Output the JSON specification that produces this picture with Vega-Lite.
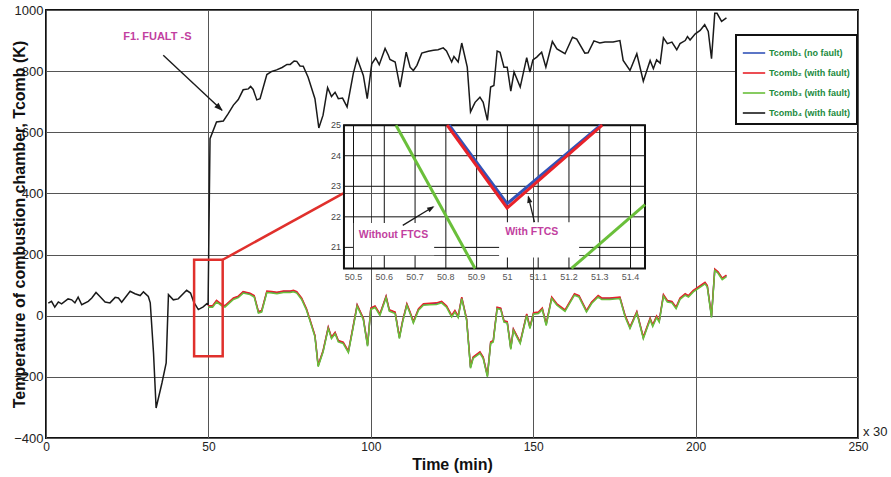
{
  "$schema": "https://vega.github.io/schema/vega-lite/v6.json",
  "width": 812,
  "height": 428,
  "autosize": {"type": "none"},
  "padding": {"left": 46, "top": 10, "right": 33, "bottom": 39},
  "background": "white",
  "config": {
    "view": {"stroke": "#111111", "strokeWidth": 2},
    "font": "Liberation Sans",
    "axis": {
      "labelFont": "Liberation Sans",
      "labelFontSize": 12,
      "labelColor": "#222222",
      "titleFont": "Liberation Sans",
      "titleFontSize": 16,
      "titleFontWeight": "bold",
      "titleColor": "#111111",
      "grid": true,
      "gridColor": "#555555",
      "gridWidth": 1,
      "domain": false,
      "ticks": false
    },
    "legend": {
      "strokeColor": "#111111",
      "strokeWidth": 2,
      "fillColor": "white",
      "padding": 6,
      "labelFont": "Liberation Sans",
      "labelFontSize": 9,
      "labelFontWeight": "bold",
      "labelColor": "#218a3c",
      "symbolType": "stroke",
      "symbolSize": 500,
      "symbolStrokeWidth": 1.6,
      "labelOffset": 3,
      "rowPadding": 3
    }
  },
  "datasets": {
    "black": [
      {"t":0.7,"v":41},{"t":1.7,"v":47},{"t":2.7,"v":28},{"t":3.8,"v":45},{"t":4.8,"v":39},{"t":6.8,"v":55},{"t":7.9,"v":52},{"t":8.9,"v":42},{"t":9.9,"v":61},{"t":11.0,"v":36},{"t":13.0,"v":47},{"t":14.1,"v":58},{"t":15.4,"v":76},{"t":16.6,"v":63},{"t":18.2,"v":45},{"t":19.7,"v":42},{"t":21.3,"v":60},{"t":22.3,"v":58},{"t":23.3,"v":44},{"t":25.9,"v":80},{"t":27.4,"v":72},{"t":29.0,"v":66},{"t":30.0,"v":78},{"t":31.5,"v":63},{"t":32.1,"v":42},{"t":33.1,"v":-121},{"t":33.9,"v":-302},{"t":35.7,"v":-220},{"t":37.0,"v":-154},{"t":37.7,"v":69},{"t":39.2,"v":52},{"t":40.7,"v":55},{"t":43.3,"v":83},{"t":44.5,"v":74},{"t":45.5,"v":44},{"t":46.9,"v":20},{"t":48.4,"v":29},{"t":49.5,"v":39},{"t":49.9,"v":36},
      {"t":50.5,"v":579},{"t":52.5,"v":634},{"t":54.6,"v":637},{"t":56.1,"v":661},{"t":57.7,"v":689},{"t":59.2,"v":707},{"t":60.7,"v":739},{"t":62.3,"v":742},{"t":63.0,"v":750},{"t":63.8,"v":740},{"t":64.9,"v":706},{"t":65.9,"v":710},{"t":68.0,"v":789},{"t":69.5,"v":799},{"t":71.0,"v":804},{"t":72.7,"v":812},{"t":74.2,"v":822},{"t":75.2,"v":822},{"t":76.4,"v":833},{"t":77.2,"v":832},{"t":78.2,"v":817},{"t":79.2,"v":816},{"t":80.7,"v":780},{"t":82.8,"v":710},{"t":84.0,"v":614},{"t":85.3,"v":656},{"t":86.7,"v":746},{"t":87.9,"v":717},{"t":89.0,"v":731},{"t":90.0,"v":710},{"t":91.3,"v":712},{"t":92.7,"v":683},{"t":94.6,"v":792},{"t":95.8,"v":841},{"t":97.7,"v":786},{"t":98.9,"v":710},{"t":100.3,"v":824},{"t":101.5,"v":843},{"t":102.6,"v":821},{"t":104.4,"v":874},{"t":105.4,"v":852},{"t":105.9,"v":838},{"t":107.5,"v":830},{"t":109.0,"v":748},{"t":110.9,"v":862},{"t":112.1,"v":813},{"t":113.1,"v":802},{"t":114.2,"v":819},{"t":115.7,"v":859},{"t":117.7,"v":865},{"t":119.3,"v":868},{"t":120.7,"v":870},{"t":122.3,"v":876},{"t":123.3,"v":866},{"t":124.9,"v":830},{"t":125.6,"v":848},{"t":126.9,"v":830},{"t":128.0,"v":892},{"t":129.7,"v":813},{"t":130.7,"v":667},{"t":132.1,"v":698},{"t":133.6,"v":715},{"t":134.6,"v":698},{"t":135.9,"v":639},{"t":136.9,"v":748},{"t":137.9,"v":753},{"t":138.9,"v":866},{"t":139.8,"v":862},{"t":141.0,"v":813},{"t":142.0,"v":813},{"t":143.1,"v":735},{"t":144.1,"v":797},{"t":146.0,"v":748},{"t":148.0,"v":844},{"t":149.0,"v":797},{"t":149.9,"v":837},{"t":151.1,"v":846},{"t":152.6,"v":862},{"t":153.9,"v":813},{"t":155.9,"v":897},{"t":157.3,"v":873},{"t":159.8,"v":857},{"t":162.1,"v":911},{"t":163.4,"v":905},{"t":165.9,"v":859},{"t":166.9,"v":860},{"t":168.7,"v":899},{"t":170.5,"v":892},{"t":172.1,"v":895},{"t":174.6,"v":895},{"t":176.7,"v":900},{"t":177.7,"v":835},{"t":179.8,"v":802},{"t":181.9,"v":857},{"t":183.9,"v":767},{"t":186.0,"v":835},{"t":187.0,"v":808},{"t":188.0,"v":837},{"t":189.1,"v":826},{"t":190.1,"v":909},{"t":191.3,"v":890},{"t":192.7,"v":895},{"t":194.2,"v":870},{"t":195.2,"v":890},{"t":196.8,"v":900},{"t":197.5,"v":913},{"t":198.3,"v":902},{"t":199.9,"v":922},{"t":201.4,"v":933},{"t":202.8,"v":952},{"t":203.9,"v":930},{"t":204.9,"v":841},{"t":205.9,"v":989},{"t":206.6,"v":989},{"t":208.0,"v":963},{"t":209.5,"v":974}
    ],
    "low": [
      {"t":49.9,"b":31,"r":33,"g":28},{"t":51.3,"b":31,"r":33,"g":28},{"t":52.5,"b":48,"r":50,"g":45},{"t":54.1,"b":35,"r":37,"g":32},{"t":55.1,"b":31,"r":33,"g":28},{"t":57.7,"b":56,"r":58,"g":53},{"t":59.2,"b":62,"r":64,"g":59},{"t":60.7,"b":77,"r":79,"g":74},{"t":62.8,"b":72,"r":74,"g":69},{"t":64.1,"b":64,"r":66,"g":61},{"t":65.4,"b":12,"r":14,"g":9},{"t":66.4,"b":15,"r":17,"g":12},{"t":68.0,"b":79,"r":81,"g":76},{"t":69.5,"b":77,"r":79,"g":74},{"t":71.1,"b":75,"r":77,"g":72},{"t":73.1,"b":79,"r":81,"g":76},{"t":75.2,"b":79,"r":81,"g":76},{"t":76.2,"b":81,"r":83,"g":78},{"t":77.2,"b":77,"r":79,"g":74},{"t":78.7,"b":56,"r":58,"g":53},{"t":80.2,"b":21,"r":23,"g":18},{"t":81.2,"b":-12,"r":-10,"g":-15},{"t":82.8,"b":-66,"r":-64,"g":-69},{"t":83.8,"b":-164,"r":-162,"g":-167},{"t":85.3,"b":-116,"r":-114,"g":-119},{"t":86.9,"b":-39,"r":-37,"g":-42},{"t":87.9,"b":-72,"r":-70,"g":-75},{"t":89.0,"b":-56,"r":-54,"g":-59},{"t":90.0,"b":-83,"r":-81,"g":-86},{"t":91.5,"b":-88,"r":-86,"g":-91},{"t":93.1,"b":-118,"r":-116,"g":-121},{"t":94.6,"b":-34,"r":-32,"g":-37},{"t":95.8,"b":34,"r":36,"g":31},{"t":97.7,"b":-10,"r":-8,"g":-13},{"t":99.0,"b":-97,"r":-95,"g":-100},{"t":100.0,"b":23,"r":25,"g":20},{"t":101.3,"b":30,"r":32,"g":27},{"t":102.8,"b":4,"r":6,"g":1},{"t":104.7,"b":62,"r":64,"g":59},{"t":105.7,"b":18,"r":20,"g":15},{"t":107.5,"b":10,"r":12,"g":7},{"t":108.8,"b":-72,"r":-70,"g":-75},{"t":109.8,"b":-18,"r":-16,"g":-21},{"t":111.1,"b":37,"r":39,"g":34},{"t":112.1,"b":10,"r":12,"g":7},{"t":113.1,"b":-21,"r":-19,"g":-24},{"t":114.7,"b":21,"r":23,"g":18},{"t":116.2,"b":37,"r":39,"g":34},{"t":118.2,"b":39,"r":41,"g":36},{"t":120.2,"b":40,"r":42,"g":37},{"t":121.8,"b":45,"r":47,"g":42},{"t":123.3,"b":31,"r":33,"g":28},{"t":124.9,"b":-1,"r":1,"g":-4},{"t":125.9,"b":15,"r":17,"g":12},{"t":126.9,"b":-3,"r":-1,"g":-6},{"t":128.0,"b":59,"r":61,"g":56},{"t":129.5,"b":-12,"r":-10,"g":-15},{"t":130.7,"b":-169,"r":-167,"g":-172},{"t":131.5,"b":-137,"r":-135,"g":-140},{"t":133.6,"b":-120,"r":-118,"g":-123},{"t":134.6,"b":-137,"r":-135,"g":-140},{"t":135.9,"b":-197,"r":-195,"g":-200},{"t":136.9,"b":-88,"r":-86,"g":-91},{"t":137.7,"b":-83,"r":-81,"g":-86},{"t":138.9,"b":26,"r":28,"g":23},{"t":140.0,"b":23,"r":25,"g":20},{"t":141.0,"b":-18,"r":-16,"g":-21},{"t":142.0,"b":-21,"r":-19,"g":-24},{"t":143.1,"b":-107,"r":-105,"g":-110},{"t":143.9,"b":-45,"r":-43,"g":-48},{"t":146.0,"b":-88,"r":-86,"g":-91},{"t":148.0,"b":4,"r":6,"g":1},{"t":149.0,"b":-39,"r":-37,"g":-42},{"t":150.1,"b":8,"r":10,"g":5},{"t":151.6,"b":10,"r":12,"g":7},{"t":152.8,"b":23,"r":25,"g":20},{"t":154.0,"b":-29,"r":-27,"g":-32},{"t":155.7,"b":59,"r":61,"g":56},{"t":157.3,"b":37,"r":39,"g":34},{"t":159.8,"b":17,"r":19,"g":14},{"t":162.7,"b":70,"r":72,"g":67},{"t":164.1,"b":64,"r":66,"g":61},{"t":166.4,"b":15,"r":17,"g":12},{"t":168.0,"b":43,"r":45,"g":40},{"t":170.0,"b":64,"r":66,"g":61},{"t":171.1,"b":56,"r":58,"g":53},{"t":173.6,"b":56,"r":58,"g":53},{"t":176.7,"b":59,"r":61,"g":56},{"t":178.3,"b":-1,"r":1,"g":-4},{"t":179.8,"b":-39,"r":-37,"g":-42},{"t":181.9,"b":12,"r":14,"g":9},{"t":183.9,"b":-72,"r":-70,"g":-75},{"t":186.0,"b":-10,"r":-8,"g":-13},{"t":186.8,"b":-32,"r":-30,"g":-35},{"t":188.0,"b":-3,"r":-1,"g":-6},{"t":188.8,"b":-18,"r":-16,"g":-21},{"t":190.1,"b":67,"r":69,"g":64},{"t":191.3,"b":48,"r":50,"g":45},{"t":192.7,"b":45,"r":47,"g":42},{"t":194.0,"b":26,"r":28,"g":23},{"t":195.2,"b":56,"r":58,"g":53},{"t":196.8,"b":70,"r":72,"g":67},{"t":197.8,"b":64,"r":66,"g":61},{"t":199.3,"b":81,"r":83,"g":78},{"t":202.9,"b":107,"r":109,"g":104},{"t":203.6,"b":97,"r":99,"g":94},{"t":204.9,"b":-3,"r":-1,"g":-6},{"t":205.9,"b":151,"r":153,"g":148},{"t":206.9,"b":142,"r":144,"g":139},{"t":208.2,"b":121,"r":123,"g":118},{"t":209.5,"b":131,"r":133,"g":128}
    ],
    "insetV": [
      {"s":"blue","x":50.811,"y":25},{"s":"blue","x":50.999,"y":22.43},{"s":"blue","x":51.303,"y":25},
      {"s":"red","x":50.804,"y":25},{"s":"red","x":50.999,"y":22.29},{"s":"red","x":51.308,"y":25},
      {"s":"g1","x":50.638,"y":25},{"s":"g1","x":50.895,"y":20.31},
      {"s":"g2","x":51.208,"y":20.31},{"s":"g2","x":51.447,"y":22.40}
    ],
    "insetXT": [
      {"x":50.5,"lab":"50.5"},{"x":50.6,"lab":"50.6"},{"x":50.7,"lab":"50.7"},{"x":50.8,"lab":"50.8"},{"x":50.9,"lab":"50.9"},{"x":51.0,"lab":"51"},{"x":51.1,"lab":"51.1"},{"x":51.2,"lab":"51.2"},{"x":51.3,"lab":"51.3"},{"x":51.4,"lab":"51.4"}
    ],
    "insetYT": [
      {"y":21,"lab":"21"},{"y":22,"lab":"22"},{"y":23,"lab":"23"},{"y":24,"lab":"24"},{"y":25,"lab":"25"}
    ]
  },
  "layer": [
    {
      "layer": [
        {
          "data": {"name": "black"},
          "mark": {"type": "line", "strokeWidth": 1.5, "interpolate": "linear"},
          "encoding": {
            "x": {"field": "t", "type": "quantitative", "scale": {"domain": [0, 250], "nice": false, "zero": false},
                  "axis": {"title": "Time (min)", "values": [0, 50, 100, 150, 200, 250], "labelPadding": 3, "titlePadding": 4, "labelFlush": false}},
            "y": {"field": "v", "type": "quantitative", "scale": {"domain": [-400, 1000], "nice": false, "zero": false},
                  "axis": {"title": "Temperature of combustion chamber, Tcomb (K)", "format": "d", "values": [-400, -200, 0, 200, 400, 600, 800, 1000], "labelPadding": 3, "titlePadding": -14, "labelFontSize": 13, "labelFlush": false}},
            "color": {"datum": "Tcomb₄ (with fault)", "type": "nominal",
                      "scale": {"domain": ["Tcomb₁  (no fault)", "Tcomb₂ (with fault)", "Tcomb₃ (with fault)", "Tcomb₄ (with fault)"],
                                "range": ["#3353b8", "#e8222a", "#6abf3a", "#1a1a1a"]},
                      "legend": {"title": null, "orient": "none", "legendX": 690, "legendY": 25}}
          }
        },
        {
          "data": {"name": "low"},
          "mark": {"type": "line", "strokeWidth": 1.5},
          "encoding": {
            "x": {"field": "t", "type": "quantitative"},
            "y": {"field": "b", "type": "quantitative"},
            "color": {"datum": "Tcomb₁  (no fault)", "type": "nominal"}
          }
        },
        {
          "data": {"name": "low"},
          "mark": {"type": "line", "strokeWidth": 1.5},
          "encoding": {
            "x": {"field": "t", "type": "quantitative"},
            "y": {"field": "r", "type": "quantitative"},
            "color": {"datum": "Tcomb₂ (with fault)", "type": "nominal"}
          }
        },
        {
          "data": {"name": "low"},
          "mark": {"type": "line", "strokeWidth": 1.5},
          "encoding": {
            "x": {"field": "t", "type": "quantitative"},
            "y": {"field": "g", "type": "quantitative"},
            "color": {"datum": "Tcomb₃ (with fault)", "type": "nominal"}
          }
        },
        {
          "data": {"values": [{"t": 45.6, "t2": 54.4, "v": -133, "v2": 183}]},
          "mark": {"type": "rect", "fill": null, "fillOpacity": 0, "stroke": "#e0302c", "strokeWidth": 2.5},
          "encoding": {
            "x": {"field": "t", "type": "quantitative"},
            "x2": {"field": "t2"},
            "y": {"field": "v", "type": "quantitative"},
            "y2": {"field": "v2"}
          }
        },
        {
          "data": {"values": [{"t": 54.4, "t2": 91.5, "v": 183, "v2": 400}]},
          "mark": {"type": "rule", "stroke": "#e0302c", "strokeWidth": 2.5},
          "encoding": {
            "x": {"field": "t", "type": "quantitative"},
            "x2": {"field": "t2"},
            "y": {"field": "v", "type": "quantitative"},
            "y2": {"field": "v2"}
          }
        },
        {
          "data": {"values": [{"t": 36.1, "t2": 54.2, "v": 852, "v2": 672}]},
          "mark": {"type": "rule", "stroke": "#1a1a1a", "strokeWidth": 1.4},
          "encoding": {
            "x": {"field": "t", "type": "quantitative"},
            "x2": {"field": "t2"},
            "y": {"field": "v", "type": "quantitative"},
            "y2": {"field": "v2"}
          }
        },
        {
          "data": {"values": [{"t": 54.4, "v": 670}]},
          "mark": {"type": "point", "shape": "M0,0L-0.5,1.4L0.5,1.4Z", "filled": true, "fill": "#1a1a1a", "size": 150, "angle": 133, "opacity": 1},
          "encoding": {
            "x": {"field": "t", "type": "quantitative"},
            "y": {"field": "v", "type": "quantitative"}
          }
        },
        {
          "data": {"values": [{"t": 34.3, "v": 913, "label": "F1. FUALT -S"}]},
          "mark": {"type": "text", "font": "Liberation Sans", "fontSize": 11, "fontWeight": "bold", "fill": "#c23fa0", "align": "center", "baseline": "middle"},
          "encoding": {
            "x": {"field": "t", "type": "quantitative"},
            "y": {"field": "v", "type": "quantitative"},
            "text": {"field": "label"}
          }
        },
        {
          "data": {"values": [{"t": 250, "v": -400, "label": "x 30"}]},
          "mark": {"type": "text", "fontSize": 13, "fill": "#222222", "align": "left", "baseline": "middle", "dx": 5, "dy": -6, "clip": false},
          "encoding": {
            "x": {"field": "t", "type": "quantitative"},
            "y": {"field": "v", "type": "quantitative"},
            "text": {"field": "label"}
          }
        }
      ]
    },
    {
      "layer": [
        {
          "data": {"name": "insetXT"},
          "mark": {"type": "rule", "stroke": "#111111", "strokeWidth": 1},
          "encoding": {
            "x": {"field": "x", "type": "quantitative", "scale": {"domain": [49.501, 52.139], "nice": false, "zero": false}, "axis": null},
            "y": {"datum": 20.31, "type": "quantitative", "scale": {"domain": [14.761, 28.77], "nice": false, "zero": false}, "axis": null},
            "y2": {"datum": 25}
          }
        },
        {
          "data": {"name": "insetYT"},
          "mark": {"type": "rule", "stroke": "#111111", "strokeWidth": 1},
          "encoding": {
            "y": {"field": "y", "type": "quantitative", "axis": null},
            "x": {"datum": 50.469, "type": "quantitative", "axis": null},
            "x2": {"datum": 51.447}
          }
        },
        {
          "data": {"values": [{"x": 50.501, "x2": 50.762, "y": 20.74, "y2": 21.8}, {"x": 50.973, "x2": 51.233, "y": 20.67, "y2": 21.82}]},
          "mark": {"type": "rect", "fill": "white", "stroke": null},
          "encoding": {
            "x": {"field": "x", "type": "quantitative", "axis": null},
            "x2": {"field": "x2"},
            "y": {"field": "y", "type": "quantitative", "axis": null},
            "y2": {"field": "y2"}
          }
        },
        {
          "data": {"values": [{"x": 50.469, "x2": 51.447, "y": 20.31, "y2": 25}]},
          "mark": {"type": "rect", "fill": null, "fillOpacity": 0, "stroke": "#111111", "strokeWidth": 2},
          "encoding": {
            "x": {"field": "x", "type": "quantitative", "axis": null},
            "x2": {"field": "x2"},
            "y": {"field": "y", "type": "quantitative", "axis": null},
            "y2": {"field": "y2"}
          }
        },
        {
          "data": {"name": "insetV"},
          "transform": [{"filter": "datum.s === 'blue'"}],
          "mark": {"type": "line", "stroke": "#3353b8", "strokeWidth": 3},
          "encoding": {
            "x": {"field": "x", "type": "quantitative", "axis": null},
            "y": {"field": "y", "type": "quantitative", "axis": null}
          }
        },
        {
          "data": {"name": "insetV"},
          "transform": [{"filter": "datum.s === 'red'"}],
          "mark": {"type": "line", "stroke": "#e8222a", "strokeWidth": 3},
          "encoding": {
            "x": {"field": "x", "type": "quantitative", "axis": null},
            "y": {"field": "y", "type": "quantitative", "axis": null}
          }
        },
        {
          "data": {"name": "insetV"},
          "transform": [{"filter": "datum.s === 'g1' || datum.s === 'g2'"}],
          "mark": {"type": "line", "stroke": "#6abf3a", "strokeWidth": 3},
          "encoding": {
            "x": {"field": "x", "type": "quantitative", "axis": null},
            "y": {"field": "y", "type": "quantitative", "axis": null},
            "detail": {"field": "s"}
          }
        },
        {
          "data": {"values": [{"x": 50.66, "x2": 50.758, "y": 21.72, "y2": 22.32}, {"x": 51.088, "x2": 51.068, "y": 21.83, "y2": 22.66}]},
          "mark": {"type": "rule", "stroke": "#1a1a1a", "strokeWidth": 1.3},
          "encoding": {
            "x": {"field": "x", "type": "quantitative", "axis": null},
            "x2": {"field": "x2"},
            "y": {"field": "y", "type": "quantitative", "axis": null},
            "y2": {"field": "y2"}
          }
        },
        {
          "data": {"values": [{"x": 50.763, "y": 22.35}]},
          "mark": {"type": "point", "shape": "M0,0L-0.5,1.4L0.5,1.4Z", "filled": true, "fill": "#1a1a1a", "size": 110, "angle": 59, "opacity": 1},
          "encoding": {
            "x": {"field": "x", "type": "quantitative", "axis": null},
            "y": {"field": "y", "type": "quantitative", "axis": null}
          }
        },
        {
          "data": {"values": [{"x": 51.067, "y": 22.7}]},
          "mark": {"type": "point", "shape": "M0,0L-0.5,1.4L0.5,1.4Z", "filled": true, "fill": "#1a1a1a", "size": 110, "angle": 346, "opacity": 1},
          "encoding": {
            "x": {"field": "x", "type": "quantitative", "axis": null},
            "y": {"field": "y", "type": "quantitative", "axis": null}
          }
        },
        {
          "data": {"values": [{"x": 50.63, "y": 21.42, "label": "Without FTCS"}, {"x": 51.079, "y": 21.5, "label": "With FTCS"}]},
          "mark": {"type": "text", "font": "Liberation Sans", "fontSize": 10.5, "fontWeight": "bold", "fill": "#c23fa0", "align": "center", "baseline": "middle"},
          "encoding": {
            "x": {"field": "x", "type": "quantitative", "axis": null},
            "y": {"field": "y", "type": "quantitative", "axis": null},
            "text": {"field": "label"}
          }
        },
        {
          "data": {"name": "insetXT"},
          "mark": {"type": "text", "fontSize": 9, "fill": "#555555", "align": "center", "baseline": "top", "dy": 5},
          "encoding": {
            "x": {"field": "x", "type": "quantitative", "axis": null},
            "y": {"datum": 20.31, "type": "quantitative", "axis": null},
            "text": {"field": "lab"}
          }
        },
        {
          "data": {"name": "insetYT"},
          "mark": {"type": "text", "fontSize": 9, "fill": "#444444", "align": "right", "baseline": "middle", "dx": -3},
          "encoding": {
            "y": {"field": "y", "type": "quantitative", "axis": null},
            "x": {"datum": 50.469, "type": "quantitative", "axis": null},
            "text": {"field": "lab"}
          }
        }
      ]
    }
  ],
  "resolve": {"scale": {"x": "independent", "y": "independent"}}
}
